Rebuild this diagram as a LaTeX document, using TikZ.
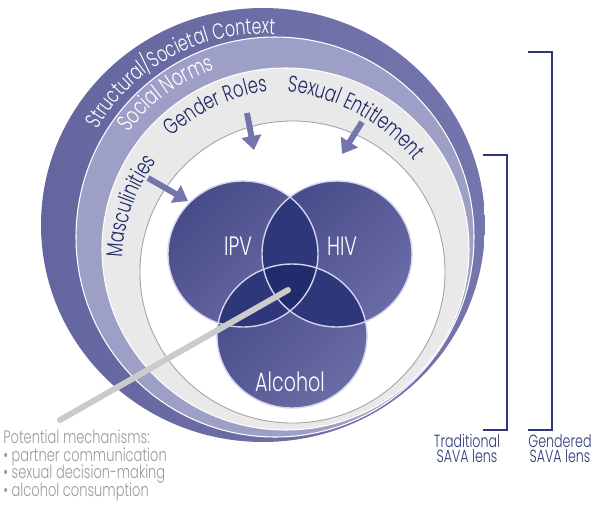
\documentclass[tikz,border=0pt]{standalone}
\usepackage{fontspec}
\setmainfont{Poppins}[UprightFont=* Light, FakeStretch=0.72]
\usetikzlibrary{arrows.meta}
\usetikzlibrary{decorations.text}

\definecolor{outerleft}{HTML}{65669F}
\definecolor{outerright}{HTML}{7475AC}
\definecolor{normring}{HTML}{9E9FC6}
\definecolor{roleband}{HTML}{E9E9EA}
\definecolor{bandline}{HTML}{A3A3A8}
\definecolor{venndark}{HTML}{474B89}
\definecolor{vennlight}{HTML}{6A6CA6}
\definecolor{vennpair}{HTML}{2D3779}
\definecolor{venntriple}{HTML}{222C6C}
\definecolor{vennedge}{HTML}{D3D3EE}
\definecolor{rolenavy}{HTML}{1E2868}
\definecolor{pusher}{HTML}{7475AD}
\definecolor{pointergrey}{HTML}{CBCBCB}
\definecolor{mechgrey}{HTML}{9A9A9A}
\definecolor{lensnavy}{HTML}{2E3877}

\newcommand{\outerringfont}{\fontsize{12.6}{14}\selectfont}
\newcommand{\normsfont}{\fontsize{13.3}{15}\selectfont}
\newcommand{\rolesfont}{\fontsize{13}{15}\selectfont}
\newcommand{\vennfont}{\fontsize{15.1}{17}\selectfont}
\newcommand{\mechfont}{\fontsize{10.3}{9.9}\selectfont\lineskiplimit=-5pt}
\newcommand{\lensfont}{\fontsize{10}{8.6}\selectfont\lineskiplimit=-5pt}

\begin{document}
\begin{tikzpicture}[x=0.02cm, y=0.02cm]
    \tikzstyle{band}=[draw=white, line width=0.6pt]
    \tikzstyle{curved}=[decorate, decoration={text along path, text align=left}]
    \tikzstyle{push}=[draw=pusher, line width=3.4pt, -{Triangle[width=11pt, length=8pt]}]
    \tikzstyle{venn}=[top color=venndark, bottom color=vennlight, shading angle=45]
    \tikzstyle{vennlabel}=[text=white, font=\vennfont, inner sep=0pt]
    \tikzstyle{lensbracket}=[draw=lensnavy, line width=1.1pt]
    \tikzstyle{lens}=[text=lensnavy, font=\lensfont, align=center, inner sep=0pt]

    \useasboundingbox (0,0) rectangle (600,-505);

    % Context rings
    \shade[left color=outerleft, right color=outerright]
      (263,-225) ellipse [x radius=222, y radius=217];
    \filldraw[band, fill=normring] (275,-237) ellipse [x radius=199, y radius=200];
    \filldraw[band, fill=roleband] (285.5,-249) ellipse [x radius=183.5, y radius=181];
    \filldraw[fill=white, draw=bandline, line width=0.5pt]
      (292.5,-272) ellipse [x radius=152.5, y radius=151];

    % Ring labels
    \path[curved, decoration={text={|\color{white}\outerringfont|Structural/Societal Context}}]
      (263,-225) ++(150:191) arc [start angle=150, end angle=40, radius=191];
    \path[curved, decoration={text={|\color{white}\normsfont|Social Norms}}]
      (273,-240) ++(143.4:180) arc [start angle=143.4, end angle=60, radius=180];
    \path[curved, decoration={text={|\color{rolenavy}\rolesfont|Gender Roles}}]
      (290,-262) ++(133.4:172) arc [start angle=133.4, end angle=70, radius=172];
    \path[curved, decoration={text={|\color{rolenavy}\rolesfont|Sexual Entitlement}}]
      (265,-283) ++(83.4:193) arc [start angle=83.4, end angle=10, radius=193];
    \path[curved, decoration={text={|\color{rolenavy}\rolesfont|Masculinities}}]
      (290,-262) ++(178.5:167) arc [start angle=178.5, end angle=110, radius=167];

    % Arrows into the lens
    \coordinate (rolesfrom) at (247,-113);
    \coordinate (rolesto) at (254,-150);
    \coordinate (entitlefrom) at (362,-122);
    \coordinate (entitleto) at (342,-154);
    \coordinate (mascfrom) at (148,-178);
    \coordinate (mascto) at (188,-201);
    \draw[push] (rolesfrom) -- (rolesto);
    \draw[push] (entitlefrom) -- (entitleto);
    \draw[push] (mascfrom) -- (mascto);

    % Venn circles
    \shade[venn] (243,-254) ellipse [x radius=75, y radius=73];
    \shade[venn] (337,-254) ellipse [x radius=75, y radius=73];
    \shade[venn] (292,-336) ellipse [x radius=75, y radius=72];
    \begin{scope}
      \clip (243,-254) ellipse [x radius=75, y radius=73];
      \fill[vennpair] (337,-254) ellipse [x radius=75, y radius=73];
      \fill[vennpair] (292,-336) ellipse [x radius=75, y radius=72];
    \end{scope}
    \begin{scope}
      \clip (337,-254) ellipse [x radius=75, y radius=73];
      \fill[vennpair] (292,-336) ellipse [x radius=75, y radius=72];
    \end{scope}
    \begin{scope}
      \clip (243,-254) ellipse [x radius=75, y radius=73];
      \clip (337,-254) ellipse [x radius=75, y radius=73];
      \fill[venntriple] (292,-336) ellipse [x radius=75, y radius=72];
    \end{scope}
    \draw[vennedge, line width=0.8pt] (243,-254) ellipse [x radius=75, y radius=73];
    \draw[vennedge, line width=0.8pt] (337,-254) ellipse [x radius=75, y radius=73];
    \draw[vennedge, line width=0.8pt] (292,-336) ellipse [x radius=75, y radius=72];

    \node[vennlabel] (ipv) at (238,-246.5) {IPV};
    \node[vennlabel] (hiv) at (342,-246.5) {HIV};
    \node[vennlabel] (alcohol) at (290,-382) {Alcohol};

    % Pointer to mechanisms
    \coordinate (ptrstart) at (288,-290);
    \coordinate (ptrend) at (60,-420);
    \draw[pointergrey, line width=3.4pt, line cap=round] (ptrstart) -- (ptrend);
    \node[anchor=north west, align=left, text=mechgrey, font=\mechfont, inner sep=0pt]
      (mech) at (3,-430) {Potential mechanisms:\\
        \textbullet\ partner communication\\
        \textbullet\ sexual decision-making\\
        \textbullet\ alcohol consumption};

    % Lens brackets
    \coordinate (tradtop) at (483,-155);
    \coordinate (tradbot) at (483,-430);
    \coordinate (gendtop) at (528,-52);
    \coordinate (gendbot) at (528,-430);
    \draw[lensbracket] (tradtop) -- ++(24,0) |- (tradbot);
    \draw[lensbracket] (gendtop) -- ++(24,0) |- (gendbot);
    \node[lens, anchor=north] (tradlabel) at (467,-434) {Traditional\\SAVA lens};
    \node[lens, anchor=north] (gendlabel) at (560,-434) {Gendered\\SAVA lens};
\end{tikzpicture}
\end{document}
